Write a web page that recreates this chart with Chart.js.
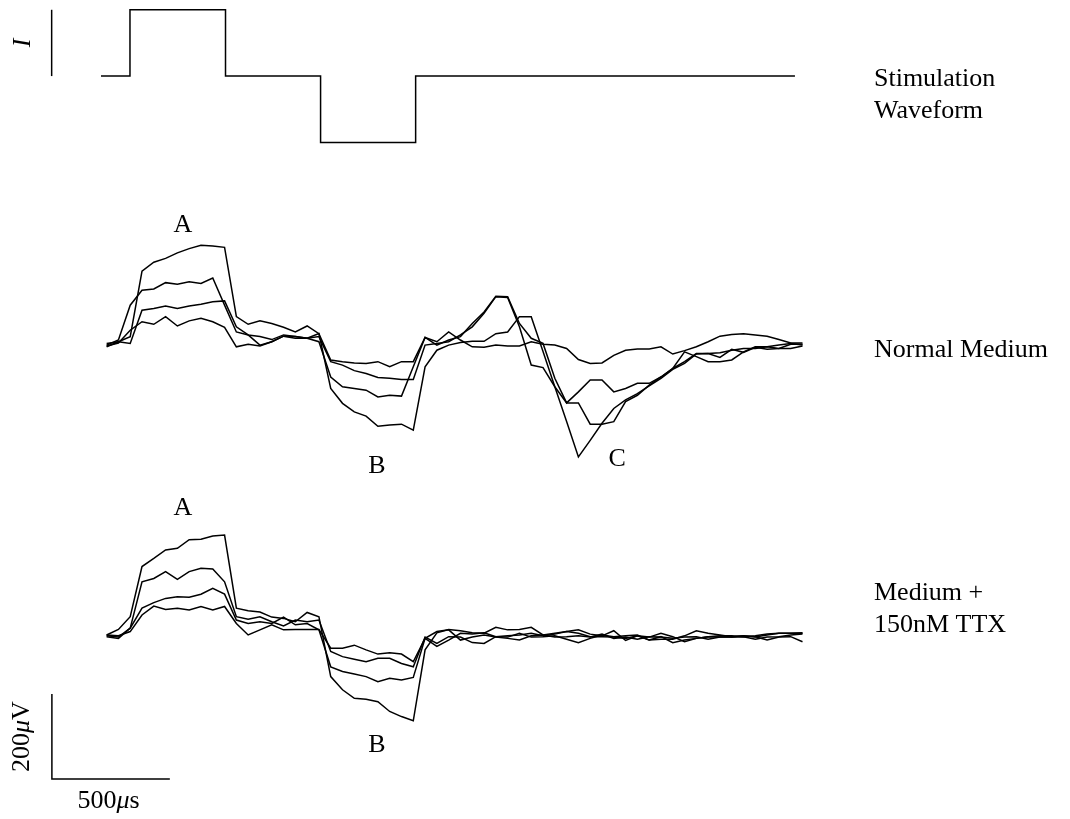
<!DOCTYPE html>
<html>
<head>
<meta charset="utf-8">
<script src="https://cdn.jsdelivr.net/npm/chart.js@4.4.1/dist/chart.umd.min.js"></script>
<style>
  html, body { margin: 0; padding: 0; background: #ffffff; }
  canvas { display: block; }
</style>
</head>
<body>
<canvas id="chart" width="1070" height="819"></canvas>
<script>
// Recordings sampled every 50 µs, 60 samples per sweep (µV, relative to baseline).
const SAMPLE_US = 50;
const sampleTimes = Array.from({ length: 60 }, (_, i) => i * SAMPLE_US);

// Normal medium: four sweeps
const normalSweep1 = [-4, 8, 20, 174, 195, 204, 217, 227, 235, 233,
  230, 67, 49, 57, 51, 42, 31, 45, 27, -35,
  -39, -42, -43, -39, -51, -39, -39, 18, 8, 31,
  12, -4, -5, 0, -2, -2, 8, 2, 0, -8,
  -34, -43, -42, -24, -12, -9, -9, -4, -21, -13,
  -4, 8, 21, 25, 27, 24, 21, 13, 5, 5];
const normalSweep2 = [0, 12, 94, 129, 132, 147, 143, 149, 145, 158,
  94, 31, 24, 20, 13, 24, 20, 16, 27, -102,
  -137, -157, -167, -191, -188, -186, -200, -51, -12, 0,
  6, 9, 9, 27, 31, 67, 67, -15, -98, -180,
  -263, -224, -184, -149, -129, -114, -96, -78, -57, -43,
  -21, -20, -29, -10, -17, -5, -10, -8, 2, 2];
const normalSweep3 = [4, 8, 4, 82, 86, 92, 86, 92, 96, 102,
  104, 43, 24, 0, 8, 21, 20, 16, 20, -39,
  -47, -60, -67, -76, -78, -81, -81, 0, 4, 8,
  24, 43, 75, 114, 112, 43, -47, -53, -98, -136,
  -136, -186, -186, -180, -133, -118, -94, -75, -55, -39,
  -20, -20, -18, -12, -8, -8, -4, -8, -8, -2];
const normalSweep4 = [-2, 5, 35, 55, 49, 67, 45, 57, 63, 55,
  42, -4, 2, -2, 8, 21, 16, 16, 8, -75,
  -98, -102, -106, -122, -118, -120, -51, 18, 0, 12,
  20, 51, 78, 115, 114, 51, 16, 4, -78, -136,
  -110, -82, -82, -110, -102, -90, -90, -75, -55, -16,
  -27, -39, -39, -35, -16, -4, -4, 0, 4, 0];

// Medium + 150nM TTX: four sweeps
const ttxSweep1 = [0, 13, 43, 161, 180, 200, 204, 224, 225, 233,
  235, 63, 57, 54, 42, 39, 31, 53, 43, -98,
  -129, -149, -151, -157, -180, -192, -202, -35, 5, 13,
  10, 5, 4, 18, 12, 13, 18, 0, 4, 8,
  4, -4, -4, -5, -8, -2, -12, -10, -10, -2,
  10, 4, 0, -4, -2, -5, 0, 4, 4, 5];
const ttxSweep2 = [-4, -8, 16, 125, 133, 149, 131, 149, 157, 155,
  125, 43, 37, 43, 31, 21, 35, 31, 35, -39,
  -51, -57, -63, -55, -55, -67, -75, -5, -20, -4,
  -5, -18, -20, -4, -2, 0, 4, -2, 2, 8,
  12, 2, -2, 10, -13, -2, -5, 4, -4, -16,
  -8, -4, -2, -2, -4, -10, -5, -4, 0, 2];
const ttxSweep3 = [-2, -5, 16, 63, 76, 86, 90, 89, 96, 110,
  96, 35, 27, 31, 27, 42, 24, 27, 12, -75,
  -86, -92, -98, -110, -102, -106, -100, -8, -27, -12,
  4, 2, 5, -4, -5, 4, -5, -4, -2, -10,
  -18, -8, 0, -4, -2, 0, -12, -4, -18, -12,
  -8, -4, -5, -5, -2, -4, -12, -5, -4, -16];
const ttxSweep4 = [0, -2, 8, 47, 68, 60, 63, 59, 67, 59,
  67, 27, 0, 12, 24, 12, 13, 13, 13, -31,
  -31, -24, -35, -45, -42, -45, -63, -8, 8, 12,
  -12, -5, 0, -5, -8, -12, -2, 0, -5, -4,
  -2, -5, 2, -8, -5, -10, -4, -5, -8, -5,
  -4, -10, -5, -4, -5, -2, 2, 4, 4, 4];

// Biphasic stimulation current: edge times (µs) and normalised levels between them
const stimEdgesUs = [-24, 99, 504, 907, 1310, 2918];
const stimLevels = [0, 1, 0, -1, 0];

// Vertical placement of each block on the shared µV axis
const NORMAL_OFFSET = 0;
const TTX_OFFSET = -682;
const STIM_OFFSET = 633;
const STIM_HEIGHT = 156;

const INK = '#000000';
const TEXT_FONT = '"Liberation Serif", "Times New Roman", serif';
const FONT_PX = 26;
const LINE_W = 1.5;

function sweepPoints(values, offset) {
  return values.map((v, i) => ({ x: sampleTimes[i], y: v + offset }));
}

function stimPoints() {
  const pts = [];
  stimLevels.forEach((lvl, k) => {
    pts.push({ x: stimEdgesUs[k], y: STIM_OFFSET + lvl * STIM_HEIGHT });
    pts.push({ x: stimEdgesUs[k + 1], y: STIM_OFFSET + lvl * STIM_HEIGHT });
  });
  return pts;
}

function lineSet(points, width) {
  return {
    data: points,
    borderColor: INK,
    borderWidth: width,
    pointRadius: 0,
    fill: false,
    tension: 0,
    clip: false,
    borderJoinStyle: 'miter',
    borderCapStyle: 'butt'
  };
}

// Calibration bars: 500 µs x 200 µV, and a one-unit current bar next to the stimulus
const BAR_T0 = -232;
const BAR_V0 = -1021;
const BAR_DT = 500;
const BAR_DV = 200;
const I_BAR_T = -233;

const datasets = [
  lineSet(stimPoints(), LINE_W),
  lineSet([{ x: I_BAR_T, y: STIM_OFFSET }, { x: I_BAR_T, y: STIM_OFFSET + STIM_HEIGHT }], LINE_W),
  ...[normalSweep1, normalSweep2, normalSweep3, normalSweep4].map(s => lineSet(sweepPoints(s, NORMAL_OFFSET), LINE_W)),
  ...[ttxSweep1, ttxSweep2, ttxSweep3, ttxSweep4].map(s => lineSet(sweepPoints(s, TTX_OFFSET), LINE_W)),
  lineSet([{ x: BAR_T0, y: BAR_V0 + BAR_DV }, { x: BAR_T0, y: BAR_V0 }, { x: BAR_T0 + BAR_DT, y: BAR_V0 }], LINE_W)
];

// Text annotations placed in data coordinates (time µs, µV)
// Each label is a list of [text, italic] runs.
const labels = [
  { runs: [['A', false]], t: 323, v: 266, align: 'center' },
  { runs: [['B', false]], t: 1146, v: -301, align: 'center' },
  { runs: [['C', false]], t: 2164, v: -285, align: 'center' },
  { runs: [['A', false]], t: 323, v: TTX_OFFSET + 282, align: 'center' },
  { runs: [['B', false]], t: 1146, v: TTX_OFFSET - 276, align: 'center' },
  { runs: [['Stimulation', false]], t: 3253, v: 609, align: 'left' },
  { runs: [['Waveform', false]], t: 3253, v: 534, align: 'left' },
  { runs: [['Normal Medium', false]], t: 3253, v: -28, align: 'left' },
  { runs: [['Medium +', false]], t: 3253, v: TTX_OFFSET + 82, align: 'left' },
  { runs: [['150nM TTX', false]], t: 3253, v: TTX_OFFSET + 7, align: 'left' },
  { runs: [['500', false], ['\u03bc', true], ['s', false]], t: BAR_T0 + BAR_DT / 2 - 10, v: -1089, align: 'center' },
  { runs: [['200', false], ['\u03bc', true], ['V', false]], t: -359, v: BAR_V0 + BAR_DV / 2, align: 'center', rotate: true },
  { runs: [['I', true]], t: -355, v: STIM_OFFSET + STIM_HEIGHT / 2, align: 'center', rotate: true }
];

function runFont(italic) {
  return (italic ? 'italic ' : '') + FONT_PX + 'px ' + TEXT_FONT;
}

const annotationPlugin = {
  id: 'annotations',
  afterDatasetsDraw(chart) {
    const { ctx, scales } = chart;
    ctx.save();
    ctx.fillStyle = INK;
    labels.forEach(lb => {
      const px = scales.x.getPixelForValue(lb.t);
      const py = scales.y.getPixelForValue(lb.v);
      let total = 0;
      const widths = lb.runs.map(([txt, it]) => {
        ctx.font = runFont(it);
        const w = ctx.measureText(txt).width;
        total += w;
        return w;
      });
      ctx.save();
      ctx.translate(px, py);
      if (lb.rotate) {
        ctx.rotate(-Math.PI / 2);
        ctx.textBaseline = 'middle';
      } else {
        ctx.textBaseline = 'alphabetic';
      }
      ctx.textAlign = 'left';
      let x = lb.align === 'center' ? -total / 2 : 0;
      lb.runs.forEach(([txt, it], k) => {
        ctx.font = runFont(it);
        ctx.fillText(txt, x, 0);
        x += widths[k];
      });
      ctx.restore();
    });
    ctx.restore();
  }
};

new Chart(document.getElementById('chart'), {
  type: 'line',
  data: { datasets },
  options: {
    responsive: false,
    animation: false,
    events: [],
    layout: { padding: 0 },
    plugins: {
      legend: { display: false },
      tooltip: { enabled: false },
      title: { display: false }
    },
    scales: {
      x: { type: 'linear', min: -452, max: 4084, display: false },
      y: { type: 'linear', min: -1115, max: 812, display: false }
    }
  },
  plugins: [annotationPlugin]
});
</script>
</body>
</html>
